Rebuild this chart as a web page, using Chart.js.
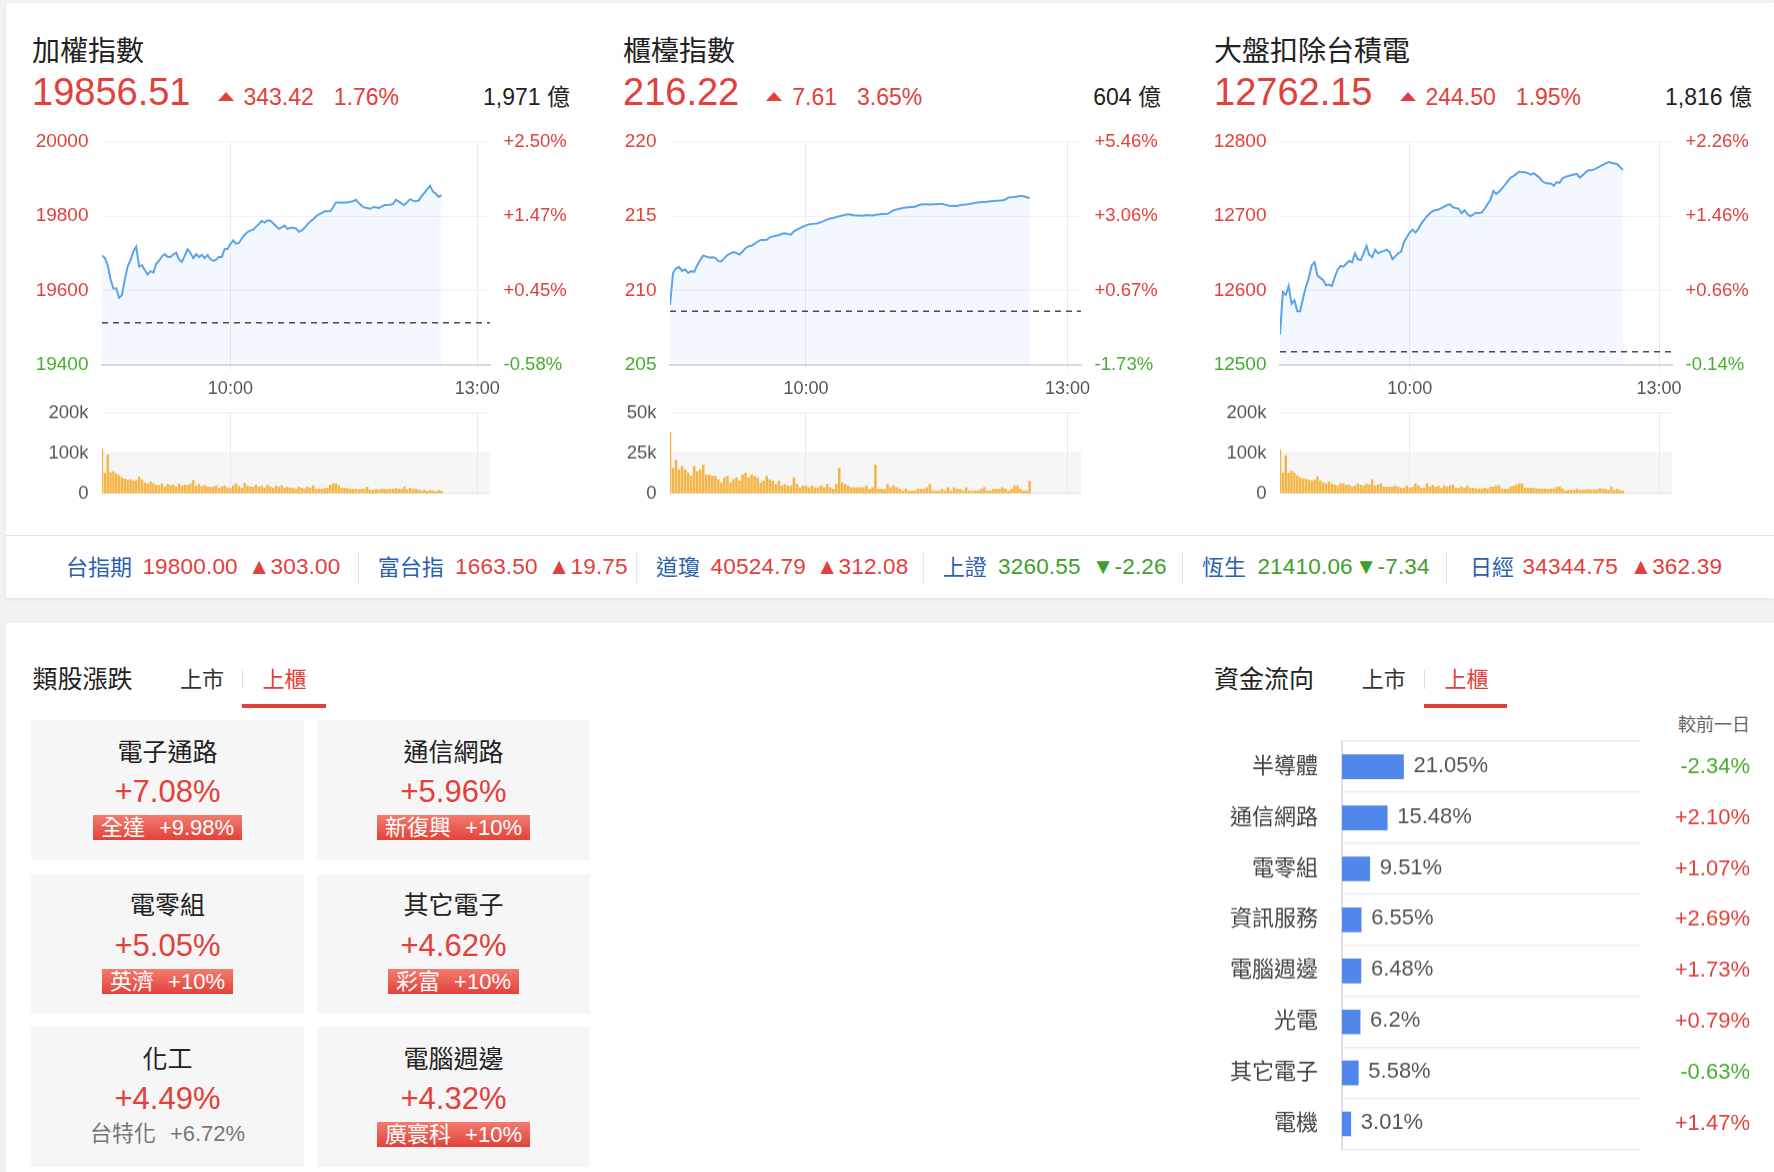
<!DOCTYPE html>
<html>
<head>
<meta charset="utf-8">
<script src="https://cdn.jsdelivr.net/npm/chart.js@4.4.1/dist/chart.umd.min.js"></script>
<style>
  body { margin: 0; width: 1774px; height: 1172px; background: #f2f2f4; position: relative; overflow: hidden;
         font-family: 'Liberation Sans', 'Noto Sans CJK TC', sans-serif; }
  .abs { position: absolute; white-space: nowrap; line-height: 1; }
  .card { position: absolute; background: #fff; }
  canvas { position: absolute; }
</style>
</head>
<body>
<div class="card" style="left:6px;top:3px;width:1768px;height:595px;box-shadow:0 2px 5px rgba(0,0,0,0.05)"></div>
<div class="abs" style="left:6px;top:535px;width:1768px;height:1px;background:#e2e2e8"></div>
<div class="card" style="left:6px;top:623px;width:1768px;height:560px"></div>
<script>
// 三大指數
const indexNames = ['加權指數', '櫃檯指數', '大盤扣除台積電'];
const lastPrices = [19856.51, 216.22, 12762.15];
const changes = [343.42, 7.61, 244.50];
const changePcts = [1.76, 3.65, 1.95];
const turnovers = ['1,971', '604', '1,816'];

const yMins = [19400, 205, 12500];
const yMaxs = [20000, 220, 12800];
const ySteps = [200, 5, 100];
const volMaxs = [200, 50, 200];
const volSteps = [100, 25, 100];

const X_MAX = 136;
const timeTickIdx = [45, 131.5];
const timeTickLabels = ['10:00', '13:00'];

const price1 = [19694,19688,19668,19630,19605,19606,19580,19588,19630,19665,
  19682,19705,19718,19665,19668,19655,19643,19652,19648,19672,
  19680,19692,19698,19690,19690,19697,19702,19684,19677,19693,
  19711,19701,19687,19698,19690,19696,19687,19696,19684,19680,
  19683,19690,19690,19712,19712,19725,19735,19726,19728,19740,
  19750,19757,19761,19764,19772,19779,19787,19783,19789,19788,
  19781,19773,19766,19770,19775,19766,19769,19769,19767,19758,
  19762,19768,19778,19786,19792,19799,19805,19808,19813,19813,
  19813,19824,19837,19837,19836,19837,19837,19839,19840,19844,
  19836,19828,19823,19822,19820,19824,19824,19822,19826,19830,
  19830,19831,19833,19844,19840,19834,19830,19838,19846,19842,
  19840,19842,19854,19863,19873,19882,19866,19861,19852,19856.51];
const price2 = [209.02,211.18,211.50,211.58,211.32,211.42,211.18,211.30,211.25,211.70,
  212.05,212.36,212.28,212.22,212.24,212.20,211.98,211.95,212.18,212.38,
  212.50,212.58,212.52,212.42,212.62,212.85,212.98,213.00,213.15,213.28,
  213.40,213.40,213.42,213.58,213.64,213.68,213.72,213.82,213.85,213.80,
  213.76,213.98,214.10,214.20,214.30,214.38,214.45,214.48,214.50,214.53,
  214.60,214.68,214.78,214.85,214.88,214.94,215.00,215.04,215.10,215.13,
  215.10,215.06,215.04,215.05,215.03,215.08,215.06,215.05,215.10,215.12,
  215.14,215.15,215.16,215.27,215.40,215.45,215.50,215.55,215.58,215.60,
  215.62,215.63,215.72,215.78,215.80,215.80,215.79,215.80,215.80,215.82,
  215.83,215.78,215.72,215.69,215.70,215.69,215.75,215.77,215.78,215.82,
  215.85,215.90,215.93,215.95,215.96,215.98,216.00,216.02,216.04,216.05,
  216.08,216.12,216.26,216.27,216.29,216.33,216.38,216.34,216.28,216.22];
const price3 = [12541,12598,12594,12606,12582,12587,12572,12572,12590,12605,
  12617,12634,12638,12620,12617,12614,12607,12608,12606,12618,
  12628,12633,12632,12636,12640,12638,12650,12642,12641,12650,
  12660,12648,12645,12655,12650,12652,12653,12655,12652,12642,
  12646,12650,12652,12665,12672,12678,12682,12678,12683,12690,
  12695,12700,12704,12707,12708,12709,12711,12713,12715,12716,
  12712,12711,12710,12704,12708,12703,12700,12702,12705,12704,
  12705,12710,12716,12722,12734,12730,12733,12737,12742,12747,
  12752,12754,12757,12760,12759,12759,12758,12756,12758,12755,
  12752,12747,12745,12744,12744,12741,12746,12745,12751,12753,
  12754,12755,12756,12757,12752,12755,12759,12762,12762,12763,
  12765,12767,12769,12771,12773,12772,12771,12770,12766,12762.15];

// 成交量 (k)
const vol1 = [112,52,97,53,56,50,46,40,37,35,36,33,34,42,35,28,25,30,26,22,
  21,25,18,24,21,22,18,24,20,23,22,25,34,20,24,19,21,18,17,18,
  20,15,18,20,16,14,20,25,19,15,27,20,18,17,22,17,20,15,22,18,
  15,20,17,20,15,17,15,15,12,17,15,13,18,15,20,12,13,12,14,15,
  22,25,26,21,15,15,14,13,12,12,11,12,13,17,10,10,12,10,12,12,
  11,12,12,14,13,12,18,11,15,12,13,10,8,10,7,9,8,6,9,7];
const vol2 = [38,16,21,15,17,15,13,11,17,14,15,18,12,12,11,11,9,7,10,11,
  7,9,10,8,12,13,10,12,11,10,7,8,11,9,8,6,8,5,6,5,
  5,10,6,4,5,5,4,5,4,4,5,4,6,4,3,6,16,7,6,5,
  4,4,4,4,4,5,3,4,18,3,3,3,6,4,5,4,3,2,3,2,
  2,2,3,3,3,4,6,2,2,2,3,2,4,2,4,3,3,2,4,2,
  2,2,2,3,4,2,2,3,3,3,4,3,2,3,5,5,3,2,2,8];
const vol3 = [110,52,95,52,57,52,45,40,38,37,35,33,35,43,33,28,25,30,25,22,
  20,25,25,22,22,18,20,25,22,20,25,23,36,20,22,25,18,17,17,18,
  20,17,15,15,20,15,17,25,20,15,15,26,18,22,17,20,15,20,18,20,
  22,15,15,18,15,20,15,15,13,13,13,15,13,17,17,20,20,12,12,12,
  18,20,23,25,25,15,15,15,15,13,13,12,12,12,13,13,17,18,13,8,
  9,10,10,12,10,10,10,12,10,11,11,14,12,12,9,18,10,12,9,7];

// 國際指數
const tickerNames = ['台指期', '富台指', '道瓊', '上證', '恆生', '日經'];
const tickerValues = ['19800.00', '1663.50', '40524.79', '3260.55', '21410.06', '34344.75'];
const tickerChanges = [303.00, 19.75, 312.08, -2.26, -7.34, 362.39];

// 類股漲跌
const sectorNames = ['電子通路', '通信網路', '電零組', '其它電子', '化工', '電腦週邊'];
const sectorPcts = [7.08, 5.96, 5.05, 4.62, 4.49, 4.32];
const leaderNames = ['全達', '新復興', '英濟', '彩富', '台特化', '廣寰科'];
const leaderPcts = [9.98, 10, 10, 10, 6.72, 10];

// 資金流向
const flowNames = ['半導體', '通信網路', '電零組', '資訊服務', '電腦週邊', '光電', '其它電子', '電機'];
const flowPcts = [21.05, 15.48, 9.51, 6.55, 6.48, 6.2, 5.58, 3.01];
const flowChanges = [-2.34, 2.10, 1.07, 2.69, 1.73, 0.79, -0.63, 1.47];
const FLOW_MAX = 102;

const RED = '#e2403a', GREEN = '#47ad2e', TGREEN = '#3f9f2a', BLUE = '#2c5fae';
const FONT = "'Liberation Sans','Noto Sans CJK TC',sans-serif";
Chart.defaults.font.family = FONT;
Chart.defaults.color = '#555';

function txt(html, x, base, size, color, extra) {
  const d = document.createElement('div');
  d.className = 'abs';
  d.style.left = x + 'px';
  d.style.top = (base - 0.8465 * size) + 'px';
  d.style.fontSize = size + 'px';
  d.style.color = color;
  if (extra) Object.assign(d.style, extra);
  d.innerHTML = html;
  document.body.appendChild(d);
  return d;
}
function box(x, y, w, h, bg) {
  const d = document.createElement('div');
  d.className = 'abs';
  Object.assign(d.style, { left: x + 'px', top: y + 'px', width: w + 'px', height: h + 'px', background: bg });
  document.body.appendChild(d);
  return d;
}
function mkCanvas(x, y, w, h) {
  const c = document.createElement('canvas');
  c.width = w; c.height = h;
  Object.assign(c.style, { left: x + 'px', top: y + 'px', width: w + 'px', height: h + 'px' });
  document.body.appendChild(c);
  return c;
}
// 移動畫布並調整高度，讓繪圖區落在指定的上下位置
function place(chart, cv, top, bottom) {
  const a = chart.chartArea;
  const h = cv.height - ((a.bottom - a.top) - (bottom - top));
  cv.style.top = (top - a.top) + 'px';
  chart.resize(cv.width, h);
}
const sign = v => (v >= 0 ? '+' : '') + v.toFixed(2);

// ---- 上方三個走勢圖 ----
const panelX = [32, 623, 1214];
const leftW = [70, 47, 66];
const prices = [price1, price2, price3];
const vols = [vol1, vol2, vol3];

const refLine = {
  id: 'refLine',
  afterDatasetsDraw(chart, args, opts) {
    const { ctx, chartArea } = chart;
    const y = chart.scales.y.getPixelForValue(opts.value);
    ctx.save();
    ctx.strokeStyle = '#4a4a4a';
    ctx.lineWidth = 1.5;
    ctx.setLineDash([6, 5]);
    ctx.beginPath();
    ctx.moveTo(chartArea.left, y);
    ctx.lineTo(chartArea.right, y);
    ctx.stroke();
    ctx.restore();
  }
};
const band = {
  id: 'band',
  beforeDraw(chart, args, opts) {
    const { ctx, chartArea } = chart;
    const y = chart.scales.y;
    const top = y.getPixelForValue(opts.value), bot = y.getPixelForValue(0);
    ctx.save();
    ctx.fillStyle = '#f6f6f6';
    ctx.fillRect(chartArea.left, top, chartArea.right - chartArea.left, bot - top);
    ctx.restore();
  }
};

panelX.forEach((P, k) => {
  const prev = lastPrices[k] - changes[k];
  txt(indexNames[k], P, 61.6, 28, '#222');
  txt(`<span>${lastPrices[k].toFixed(2)}</span>` +
      `<span style="display:inline-block;width:0;height:0;border-left:8px solid transparent;border-right:8px solid transparent;border-bottom:9px solid ${RED};margin:0 10px 0 27px;vertical-align:3.5px"></span>` +
      `<span style="font-size:23px">${changes[k].toFixed(2)}</span>` +
      `<span style="font-size:23px;margin-left:20px">${changePcts[k].toFixed(2)}%</span>`,
      P, 105, 38, RED);
  txt(turnovers[k] + ' 億', P, 105, 23, '#222', { width: '538px', textAlign: 'right' });

  const cv = mkCanvas(P, 120, 538, 300);
  const pc = new Chart(cv, {
    type: 'line',
    data: { datasets: [{
      data: prices[k].map((v, i) => ({ x: i, y: v })),
      borderColor: '#5ba4e9', borderWidth: 2, pointRadius: 0, tension: 0,
      fill: 'start', backgroundColor: 'rgba(88,160,230,0.08)'
    }] },
    options: {
      responsive: false, maintainAspectRatio: false, animation: false,
      plugins: { legend: { display: false }, tooltip: { enabled: false }, refLine: { value: prev } },
      scales: {
        x: {
          type: 'linear', min: 0, max: X_MAX,
          afterBuildTicks: a => { a.ticks = timeTickIdx.map(v => ({ value: v })); },
          afterFit: s => { s.height = 36; },
          ticks: { callback: (v, i) => timeTickLabels[i], color: '#555', font: { size: 18 }, padding: 8, maxRotation: 0, autoSkip: false },
          grid: { color: '#eaeaea', tickLength: 5 },
          border: { color: '#d8dae2', width: 2 }
        },
        y: {
          position: 'left', min: yMins[k], max: yMaxs[k],
          afterFit: s => { s.width = leftW[k]; },
          ticks: { stepSize: ySteps[k], font: { size: 19 }, padding: 13.5,
                   callback: v => String(v),
                   color: c => (c.tick.value > prev ? RED : GREEN) },
          grid: { color: '#f0f0f0', drawTicks: false },
          border: { display: false }
        },
        y2: {
          position: 'right', min: yMins[k], max: yMaxs[k],
          afterFit: s => { s.width = 80; },
          ticks: { stepSize: ySteps[k], font: { size: 18.5 }, padding: 13.5,
                   callback: v => sign((v - prev) / prev * 100) + '%',
                   color: c => (c.tick.value > prev ? RED : GREEN) },
          grid: { display: false, drawTicks: false },
          border: { display: false }
        }
      }
    },
    plugins: [refLine]
  });
  place(pc, cv, 141.4, 364.3);

  const vc = mkCanvas(P, 390, 538, 130);
  const vchart = new Chart(vc, {
    type: 'bar',
    data: { datasets: [{
      data: vols[k].map((v, i) => ({ x: i, y: v })),
      backgroundColor: '#f5b546', categoryPercentage: 0.85, barPercentage: 1
    }] },
    options: {
      responsive: false, maintainAspectRatio: false, animation: false,
      layout: { padding: { top: 0, left: 0, right: 80, bottom: 0 } },
      plugins: { legend: { display: false }, tooltip: { enabled: false }, band: { value: volSteps[k] } },
      scales: {
        x: {
          type: 'linear', min: 0, max: X_MAX, offset: false,
          afterBuildTicks: a => { a.ticks = timeTickIdx.map(v => ({ value: v })); },
          afterFit: s => { s.height = 0; },
          ticks: { display: false },
          grid: { color: '#eaeaea', drawTicks: false, offset: false },
          border: { display: false }
        },
        y: {
          min: 0, max: volMaxs[k],
          afterFit: s => { s.width = leftW[k]; },
          ticks: { stepSize: volSteps[k], font: { size: 18.5 }, padding: 13.5, color: '#555',
                   callback: v => (v === 0 ? '0' : v + 'k') },
          grid: { color: c => (c.tick.value === 0 ? '#e4e4e4' : '#eeeeee'), drawTicks: false },
          border: { display: false }
        }
      }
    },
    plugins: [band]
  });
  place(vchart, vc, 413, 493.3);
});

// ---- 國際指數列 ----
const tkName = [66, 377.7, 656, 942.7, 1202, 1470];
const tkVal = [142.4, 455, 710.6, 998, 1257.4, 1522.6];
const tkChg = [248, 548, 816, 1092, 1355, 1629.7];
const tkSep = [357.6, 636, 922.8, 1182, 1446];
tickerNames.forEach((n, i) => {
  const up = tickerChanges[i] >= 0;
  const col = up ? RED : TGREEN;
  txt(n, tkName[i], 576, 22, BLUE);
  txt(tickerValues[i], tkVal[i], 575, 22.5, col, { letterSpacing: '0.2px' });
  txt((up ? '▲' : '▼') + tickerChanges[i].toFixed(2), tkChg[i], 575, 22.5, col, { letterSpacing: '0.2px' });
});
tkSep.forEach(x => box(x, 551, 1, 33, '#e6e6e6'));

// ---- 標題與分頁 ----
function tabs(title, tx, s1, dv, s2, ul0, ul1) {
  txt(title, tx, 688.3, 25, '#222');
  txt('上市', s1, 687.5, 22, '#333');
  box(dv, 670, 1, 19, '#dddddd');
  txt('上櫃', s2, 687.5, 22, RED);
  box(ul0, 704.3, ul1 - ul0, 3.5, RED);
}
tabs('類股漲跌', 32.5, 180, 242, 262.5, 242, 326);
tabs('資金流向', 1214, 1361.8, 1424.3, 1444.4, 1424, 1506.5);

// ---- 類股漲跌方塊 ----
const tileCols = [31, 317];
const tileRows = [719.6, 873.5, 1027.3];
const tileW = 273, tileH = 140;
sectorNames.forEach((n, i) => {
  const x = tileCols[i % 2], y = tileRows[Math.floor(i / 2)];
  box(x, y, tileW, tileH, '#f6f6f6');
  txt(n, x, y + 41.1, 25, '#222', { width: tileW + 'px', textAlign: 'center' });
  txt('+' + sectorPcts[i].toFixed(2) + '%', x, y + 82.4, 31, RED, { width: tileW + 'px', textAlign: 'center' });
  const inner = `${leaderNames[i]}<span style="margin-left:14px">+${leaderPcts[i]}%</span>`;
  if (leaderPcts[i] >= 9.5) {
    const w = box(x, y + 95, tileW, 25, 'transparent');
    w.style.textAlign = 'center';
    w.style.lineHeight = '25px';
    w.style.fontSize = '22px';
    w.innerHTML = `<span style="display:inline-block;height:25px;line-height:25px;padding:0 8px;color:#fff;background:linear-gradient(180deg,#f47b6f,#e2423a)">${inner}</span>`;
  } else {
    txt(inner, x, y + 114.2, 22, '#777', { width: tileW + 'px', textAlign: 'center' });
  }
});

// ---- 資金流向橫條圖 ----
txt('較前一日', 1600, 731.5, 18, '#666', { width: '150px', textAlign: 'right' });
const barLabels = {
  id: 'barLabels',
  afterDatasetsDraw(chart) {
    const { ctx } = chart;
    ctx.save();
    ctx.font = '22px ' + FONT;
    ctx.fillStyle = '#555';
    ctx.textBaseline = 'middle';
    chart.getDatasetMeta(0).data.forEach((bar, i) => {
      ctx.fillText(flowPcts[i] + '%', bar.x + 10, bar.y - 1);
    });
    ctx.restore();
  }
};
const fc = mkCanvas(1190, 700, 560, 500);
const flowChart = new Chart(fc, {
  type: 'bar',
  data: { labels: flowNames, datasets: [{ data: flowPcts, backgroundColor: '#5186ec', barThickness: 24 }] },
  options: {
    indexAxis: 'y', responsive: false, maintainAspectRatio: false, animation: false,
    plugins: { legend: { display: false }, tooltip: { enabled: false } },
    scales: {
      x: { display: false, min: 0, max: FLOW_MAX },
      y: {
        position: 'left',
        afterFit: s => { s.width = 152; },
        ticks: { color: '#444', font: { size: 22 }, padding: 24 },
        grid: { offset: true, color: '#ececec', lineWidth: 1.5, drawTicks: false },
        border: { color: '#dedede', width: 2 }
      },
      y2: {
        type: 'category', position: 'right', labels: flowChanges.map(v => sign(v) + '%'), offset: true,
        afterFit: s => { s.width = 110; },
        ticks: { crossAlign: 'far', font: { size: 22 }, color: c => (flowChanges[c.index] >= 0 ? RED : GREEN) },
        grid: { display: false, drawTicks: false },
        border: { display: false }
      }
    }
  },
  plugins: [barLabels]
});
place(flowChart, fc, 741.6, 1148.9);
</script>
</body>
</html>
